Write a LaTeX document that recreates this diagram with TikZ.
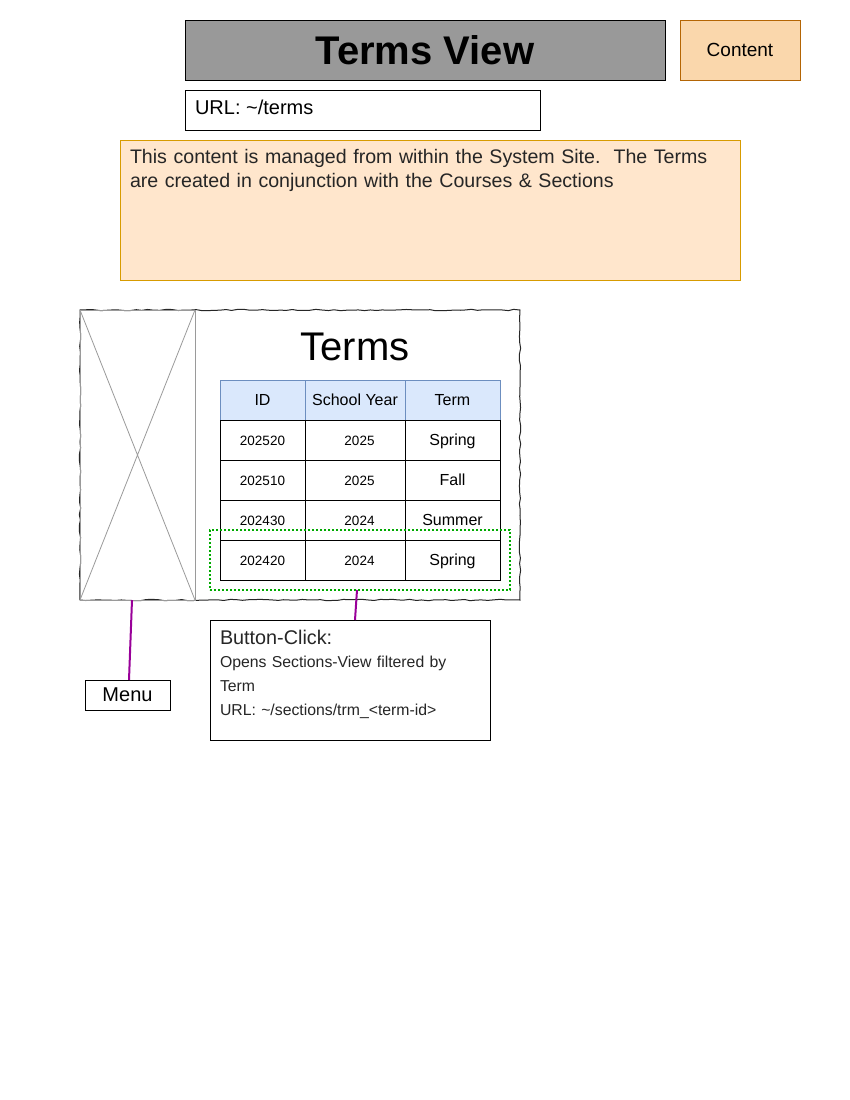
\documentclass[tikz,border=0pt]{standalone}
\usepackage{fontspec}
\setmainfont{Liberation Sans}
\usetikzlibrary{decorations.pathmorphing,calc}
\definecolor{titlegray}{HTML}{999999}
\definecolor{contentfill}{HTML}{FAD7AC}
\definecolor{contentdraw}{HTML}{B46504}
\definecolor{notefill}{HTML}{FFE6CC}
\definecolor{notedraw}{HTML}{D79B00}
\definecolor{headfill}{HTML}{DAE8FC}
\definecolor{headdraw}{HTML}{6C8EBF}
\definecolor{selgreen}{HTML}{00AA00}
\definecolor{connpurple}{HTML}{990099}
\definecolor{panelgray}{HTML}{9A9A9A}
\newcommand{\fs}[1]{\fontsize{#1}{#1}\selectfont}
\begin{document}
\begin{tikzpicture}[x=1pt,y=-1pt,
  box/.style={draw, line width=1pt, inner sep=0pt, outer sep=0pt, anchor=north west},
  txt/.style={inner sep=0pt, outer sep=0pt},
  cell/.style={draw=black, fill=white, line width=1pt, anchor=north west, inner sep=0pt, outer sep=0pt, minimum height=40, text height=12.5pt, text depth=1pt},
  headcell/.style={cell, draw=headdraw, fill=headfill},
  sketch/.style={draw=black!85, line width=1pt, decorate, decoration={random steps, segment length=6pt, amplitude=0.7pt}},
  conn/.style={draw=connpurple, line width=2pt}]
\useasboundingbox (0,0) rectangle (850,1100);
\fill[white] (0,0) rectangle (850,1100);
\pgfmathsetseed{7}

% header
\node[box, fill=titlegray, minimum width=480, minimum height=60, font=\bfseries\fs{40}] (title) at (185,20) {Terms View};
\node[box, draw=contentdraw, fill=contentfill, minimum width=120, minimum height=60, font=\fs{19}] (content) at (680,20) {Content};
\node[box, minimum width=355, minimum height=40] (url) at (185,90) {};
\node[txt, anchor=base west, font=\fs{20}] (urltext) at (195,114) {URL: \textasciitilde/terms};

% note
\node[box, draw=notedraw, fill=notefill, minimum width=620, minimum height=140] (note) at (120,140) {};
\node[txt, anchor=north west, text width=605, align=left, font=\fontsize{19.6}{24}\selectfont, text=black!85] (notetext) at (130,149)
  {This content is managed from within the System Site.\ \ The Terms\\are created in conjunction with the Courses \& Sections};

% wireframe frame
\draw[sketch] (80,310) rectangle (520,600);
\node[box, draw=panelgray, minimum width=115, minimum height=290] (side) at (80,310) {};
\draw[panelgray, line width=0.8pt] (side.north west) -- (side.south east) (side.north east) -- (side.south west);
\node[txt, font=\fs{40}] (ttl) at (355,347) {Terms};

% table
\node[headcell, minimum width=85, font=\fs{16}] (h1) at (220,380) {ID};
\node[headcell, minimum width=100, font=\fs{16}] (h2) at (305,380) {School Year};
\node[headcell, minimum width=95, font=\fs{16}] (h3) at (405,380) {Term};
\foreach \y/\a/\b/\c [count=\i] in {420/202520/2025/Spring, 460/202510/2025/Fall, 500/202430/2024/Summer, 540/202420/2024/Spring} {
  \node[cell, minimum width=85, font=\fs{13.5}] (r\i a) at (220,\y) {\a};
  \node[cell, minimum width=100, font=\fs{13.5}] (r\i b) at (305,\y) {\hspace*{9pt}\b};
  \node[cell, minimum width=95, font=\fs{16}] (r\i c) at (405,\y) {\c};
}
\node[box, draw=selgreen, line width=2pt, dash pattern=on 2pt off 2pt, minimum width=300, minimum height=60] (sel) at (210,530) {};

% menu and button-click
\node[box, minimum width=85, minimum height=30, font=\fs{20}] (menu) at (85,680) {Menu};
\node[box, minimum width=280, minimum height=120] (btn) at (210,620) {};
\node[txt, anchor=base west, font=\fs{19.8}, text=black!85] (btntitle) at (220,644) {Button-Click:};
\node[txt, anchor=north west, text width=265, align=left, font=\fontsize{15.8}{24}\selectfont, text=black!85] (btntext) at (220,656.5)
  {Opens Sections-View filtered by\\Term\\URL: \textasciitilde/sections/trm\_<term-id>};

% connectors
\coordinate (m1) at (132,600);
\draw[conn] (m1) -- ([xshift=1.5]menu.north);
\draw[conn] ([xshift=-3]sel.south) -- ([xshift=5]btn.north);
\end{tikzpicture}
\end{document}
